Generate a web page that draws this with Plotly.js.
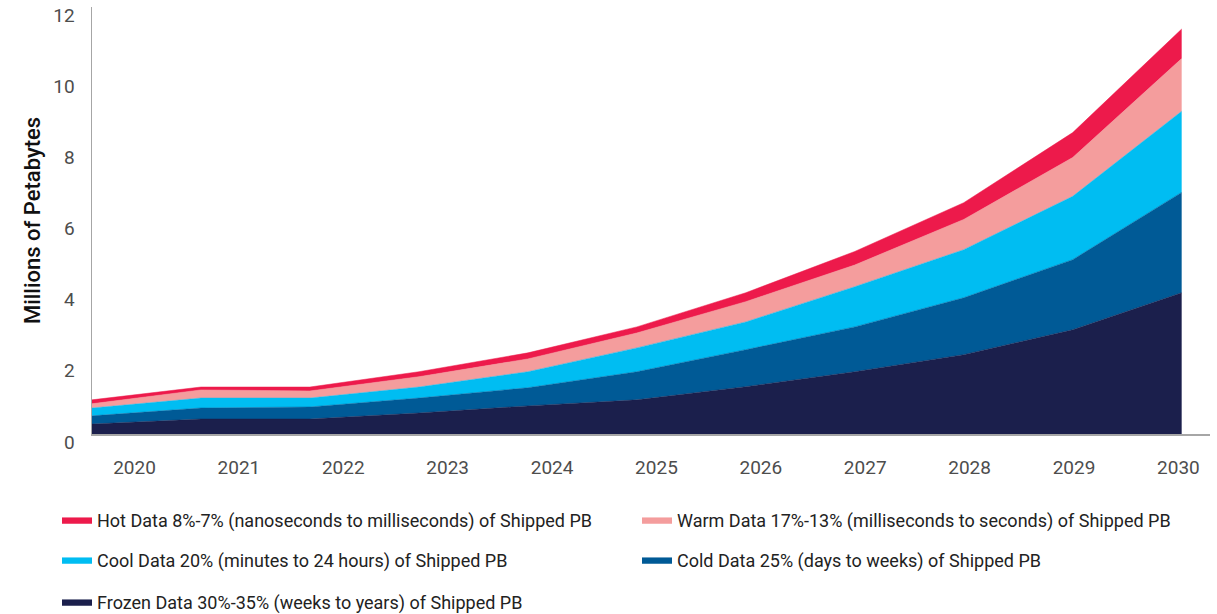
<!DOCTYPE html>
<html>
<head>
<meta charset="utf-8">
<script src="https://cdn.plot.ly/plotly-3.0.1.min.js"></script>
<style>
html,body{margin:0;padding:0;background:#fff;}
#chart{width:1217px;height:614px;}
</style>
</head>
<body>
<div id="chart"></div>
<script>
// Data (millions of petabytes)
const years  = [2020, 2021, 2022, 2023, 2024, 2025, 2026, 2027, 2028, 2029, 2030];
const frozen = [0.28, 0.42, 0.42, 0.59, 0.79, 0.96, 1.33, 1.75, 2.23, 2.93, 3.97];
const cold   = [0.23, 0.31, 0.34, 0.42, 0.51, 0.79, 1.04, 1.26, 1.60, 1.97, 2.82];
const cool   = [0.22, 0.28, 0.25, 0.31, 0.45, 0.67, 0.78, 1.13, 1.35, 1.78, 2.28];
const warm   = [0.12, 0.23, 0.20, 0.29, 0.36, 0.42, 0.57, 0.61, 0.85, 1.09, 1.48];
const hot    = [0.11, 0.08, 0.11, 0.14, 0.17, 0.17, 0.25, 0.38, 0.47, 0.70, 0.83];

const names = {
  hot: 'Hot Data 8%-7% (nanoseconds to milliseconds) of Shipped PB',
  warm: 'Warm Data 17%-13% (milliseconds to seconds) of Shipped PB',
  cool: 'Cool Data 20% (minutes to 24 hours) of Shipped PB',
  cold: 'Cold Data 25% (days to weeks) of Shipped PB',
  frozen: 'Frozen Data 30%-35% (weeks to years) of Shipped PB'
};
const colors = {
  hot: '#ED1A4B', warm: '#F49D9D', cool: '#00BDF2', cold: '#005A96', frozen: '#1B1F4C'
};

function area(key, vals, legend) {
  return {
    type: 'scatter', mode: 'lines', x: years, y: vals, name: names[key],
    stackgroup: 'one', fillcolor: colors[key],
    line: {color: colors[key], width: 0.5},
    legend: legend, hoverinfo: 'x+y+name'
  };
}

const traces = [
  area('frozen', frozen, 'legend5'),
  area('cold', cold, 'legend4'),
  area('cool', cool, 'legend3'),
  area('warm', warm, 'legend2'),
  area('hot', hot, 'legend')
];

// label positions on the x axis (labels are spread slightly differently from the data points)
const tickPos = years.map((y, i) => years[0] + 0.39 + 0.958 * i);

const legendFont = {family: 'Roboto, "Noto Sans", sans-serif', size: 18, color: '#222'};
function leg(xpx, ypx) {
  return {
    orientation: 'h', xref: 'container', yref: 'container',
    x: xpx / 1217, y: 1 - ypx / 614,
    xanchor: 'left', yanchor: 'middle',
    font: legendFont, bgcolor: 'rgba(0,0,0,0)'
  };
}

const layout = {
  width: 1217, height: 614,
  margin: {l: 92, r: 7, t: 7, b: 180},
  paper_bgcolor: '#fff', plot_bgcolor: '#fff',
  font: {family: 'Roboto, "Noto Sans", sans-serif', color: '#4D4D4D'},
  showlegend: true,
  xaxis: {
    range: [years[0], years[years.length - 1] + 0.26],
    tickvals: tickPos, ticktext: years.map(String),
    showgrid: false, zeroline: false, showline: true,
    linecolor: '#A6A6A6', linewidth: 1.5, ticks: '',
    tickfont: {size: 19, color: '#4D4D4D'}, ticklabelstandoff: 16,
    fixedrange: true
  },
  yaxis: {
    range: [0, 12], tickvals: [0, 2, 4, 6, 8, 10, 12],
    showgrid: false, zeroline: false, showline: true,
    linecolor: '#A6A6A6', linewidth: 1.5, ticks: '',
    tickfont: {size: 19, color: '#4D4D4D'}, ticklabelstandoff: 12, ticklabelshift: 8,
    title: {text: 'Millions of Petabytes', font: {size: 22, color: '#111', weight: 500}, standoff: 6},
    fixedrange: true
  },
  legend: leg(57, 520),
  legend2: leg(637, 520),
  legend3: leg(57, 560),
  legend4: leg(637, 560),
  legend5: leg(57, 602)
};

Plotly.newPlot('chart', traces, layout, {displayModeBar: false, staticPlot: true});
</script>
</body>
</html>
